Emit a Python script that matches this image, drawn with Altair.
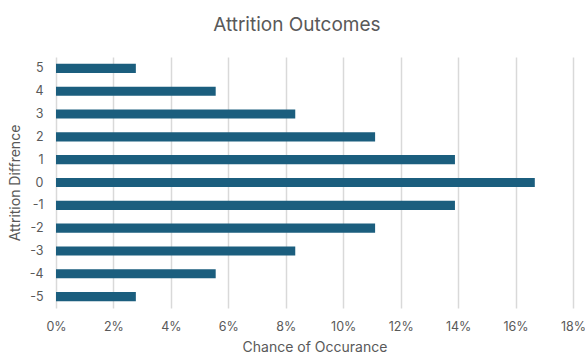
import altair as alt
import pandas as pd

# Attrition difference outcomes and their probability (in percent)
differences = ["5", "4", "3", "2", "1", "0", "-1", "-2", "-3", "-4", "-5"]
chances = [2.78, 5.56, 8.33, 11.11, 13.89, 16.67, 13.89, 11.11, 8.33, 5.56, 2.78]

df = pd.DataFrame({"diff": differences, "chance": [c / 100 for c in chances]})

font = "Inter"
grey = "#595959"

chart = (
    alt.Chart(df)
    .mark_bar(color="#1B5E7E")
    .encode(
        x=alt.X(
            "chance:Q",
            title="Chance of Occurance",
            scale=alt.Scale(domain=[0, 0.18], nice=False),
            axis=alt.Axis(
                format=".0%",
                values=[i / 100 for i in range(0, 19, 2)],
                grid=True,
                gridColor="#d9d9d9",
                gridWidth=1.5,
                domain=False,
                ticks=False,
                labelFlush=False,
                labelPadding=12,
                labelFontSize=12.5,
                labelColor=grey,
                labelFont=font,
                titleFont=font,
                titleFontSize=14,
                titleFontWeight="normal",
                titleColor=grey,
                titlePadding=8,
            ),
        ),
        y=alt.Y(
            "diff:O",
            sort=differences,
            title="Attrition Diffrence",
            scale=alt.Scale(paddingInner=0.6, paddingOuter=0.3),
            axis=alt.Axis(
                domain=False,
                ticks=False,
                labelPadding=13,
                labelFontSize=12.5,
                labelColor=grey,
                labelFont=font,
                titleFont=font,
                titleFontSize=14,
                titleFontWeight="normal",
                titleColor=grey,
                titlePadding=7,
            ),
        ),
    )
    .properties(
        width=517,
        height=251,
        title=alt.TitleParams(
            "Attrition Outcomes",
            font=font,
            fontSize=19,
            fontWeight="normal",
            color=grey,
            anchor="middle",
            frame="bounds",
            offset=22,
        ),
        autosize=alt.AutoSizeParams(type="none"),
        padding={"left": 56, "top": 57, "right": 12, "bottom": 50},
    )
    .configure_view(stroke=None)
)

chart.save("out.html", embed_options={"renderer": "svg", "actions": False})
